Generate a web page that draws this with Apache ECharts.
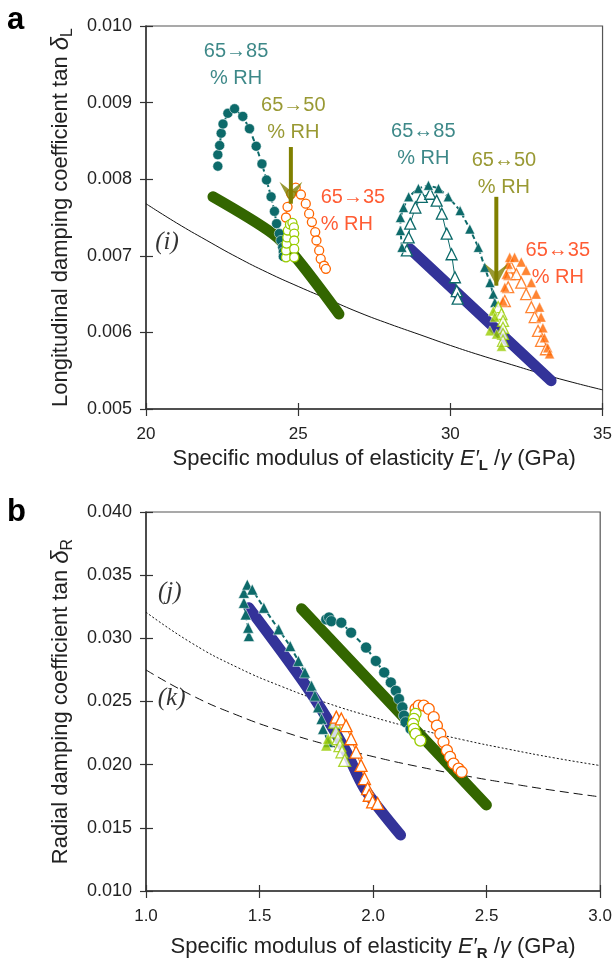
<!DOCTYPE html>
<html><head><meta charset="utf-8">
<script src="https://cdn.jsdelivr.net/npm/echarts@6/dist/echarts.min.js"></script>
<style>html,body{margin:0;padding:0;background:#fff}#c{width:615px;height:962px}</style>
</head><body><div id="c"></div>
<script>
// ---------- Panel a data (x: specific modulus E'L/γ, GPa ; y: tan δL) ----------
const aXTicks = [20, 25, 30, 35];
const aYTicks = [0.005, 0.006, 0.007, 0.008, 0.009, 0.010];
const aGreenFit = [[22.20,0.00777],[24.16,0.00729],[24.92,0.00698],[26.34,0.00624]];
const aBlueFit = [[28.68,0.00709],[33.31,0.00537]];
const curveIX = [20,21,22,23,24,25,26,27,28,29,30,31,32,33,34,35];
const curveIY = [0.00768,0.00743,0.00720,0.00698,0.00678,0.00660,0.00643,0.00626,0.00611,0.00597,0.00583,0.00570,0.00558,0.00546,0.00535,0.00525];
const aTealCirc = [[22.36,0.00817],[22.36,0.00832],[22.42,0.00844],[22.47,0.00860],[22.53,0.00872],[22.69,0.00886],[22.91,0.00892],[23.18,0.00882],[23.40,0.00866],[23.62,0.00843],[23.81,0.00820],[23.96,0.00799],[24.11,0.00777],[24.22,0.00758],[24.29,0.00742],[24.38,0.00729],[24.43,0.00720],[24.49,0.00711],[24.51,0.00705],[24.51,0.00699]];
const aLimeCirc = [[24.60,0.00698],[24.60,0.00707],[24.62,0.00716],[24.64,0.00724],[24.66,0.00733],[24.73,0.00741],[24.81,0.00743],[24.86,0.00737],[24.87,0.00729],[24.87,0.00720],[24.87,0.00709],[24.87,0.00698]];
const aOrangeCirc = [[24.60,0.00750],[24.65,0.00764],[24.77,0.00781],[24.92,0.00789],[25.09,0.00780],[25.25,0.00768],[25.36,0.00755],[25.45,0.00744],[25.56,0.00731],[25.60,0.00720],[25.69,0.00707],[25.74,0.00696],[25.85,0.00687],[25.91,0.00683]];
const aTealTriFilled = [[28.41,0.00711],[28.36,0.00733],[28.36,0.00750],[28.46,0.00763],[28.63,0.00777],[28.95,0.00788],[29.28,0.00792],[29.61,0.00788],[29.93,0.00777],[30.32,0.00759],[30.64,0.00735],[30.92,0.00711],[31.13,0.00685],[31.30,0.00665],[31.41,0.00650],[31.46,0.00639]];
const aTealTriOpen = [[28.57,0.00707],[28.63,0.00724],[28.68,0.00742],[28.85,0.00763],[29.06,0.00777],[29.34,0.00781],[29.55,0.00772],[29.72,0.00755],[29.88,0.00729],[30.04,0.00702],[30.15,0.00672],[30.21,0.00654],[30.24,0.00644]];
const aLimeTriFilled = [[31.41,0.00628],[31.46,0.00620],[31.30,0.00602],[31.52,0.00598],[31.68,0.00582]];
const aLimeTriOpen = [[31.57,0.00633],[31.68,0.00624],[31.73,0.00615],[31.73,0.00606],[31.73,0.00598],[31.73,0.00589]];
const aOrangeTriFilled = [[31.73,0.00641],[31.79,0.00659],[31.84,0.00676],[31.90,0.00689],[31.95,0.00698],[32.11,0.00698],[32.33,0.00692],[32.49,0.00681],[32.66,0.00665],[32.82,0.00650],[32.93,0.00633],[32.98,0.00620],[33.04,0.00606],[33.09,0.00593],[33.20,0.00580],[33.26,0.00572]];
const aOrangeTriOpen = [[31.79,0.00641],[31.90,0.00659],[31.95,0.00676],[32.00,0.00685],[32.17,0.00676],[32.33,0.00665],[32.49,0.00650],[32.66,0.00633],[32.77,0.00620],[32.88,0.00602],[32.98,0.00589],[33.14,0.00578]];

// ---------- Panel b data (x: specific modulus E'R/γ, GPa ; y: tan δR) ----------
const bXTicks = [1.0, 1.5, 2.0, 2.5, 3.0];
const bYTicks = [0.010, 0.015, 0.020, 0.025, 0.030, 0.035, 0.040];
const bGreenFit = [[1.685,0.03234],[2.499,0.01680]];
const bBlueFit = [[1.453,0.03242],[1.715,0.02598],[1.875,0.02126],[1.962,0.01811],[2.121,0.01443]];
const curveJX = [1.0,1.2,1.4,1.6,1.8,2.0,2.2,2.4,2.6,2.8,3.0];
const curveJY = [0.03207,0.02964,0.02772,0.02617,0.02486,0.02376,0.02280,0.02195,0.02121,0.02053,0.01993];
const curveKX = [1.0,1.2,1.4,1.6,1.8,2.0,2.2,2.4,2.6,2.8,3.0];
const curveKY = [0.02750,0.02550,0.02393,0.02264,0.02156,0.02064,0.01984,0.01914,0.01852,0.01795,0.01745];
const bTealTri = [[1.453,0.03018],[1.450,0.03084],[1.439,0.03189],[1.431,0.03281],[1.431,0.03360],[1.446,0.03425],[1.468,0.03386],[1.519,0.03242],[1.584,0.03071],[1.635,0.02939],[1.671,0.02821],[1.700,0.02730],[1.729,0.02624],[1.744,0.02546],[1.758,0.02454],[1.773,0.02362],[1.780,0.02283],[1.802,0.02179]];
const bLimeTriOpen = [[1.831,0.02336],[1.836,0.02260],[1.845,0.02205],[1.854,0.02150],[1.863,0.02102],[1.875,0.02034]];
const bLimeTriFilled = [[1.794,0.02152],[1.802,0.02205]];
const bOrangeTri = [[1.838,0.02376],[1.860,0.02362],[1.881,0.02309],[1.903,0.02205],[1.925,0.02100],[1.947,0.01994],[1.962,0.01890],[1.976,0.01811],[1.983,0.01758],[1.998,0.01706],[2.020,0.01693]];
const bTealCirc = [[1.794,0.03150],[1.806,0.03165],[1.816,0.03136],[1.860,0.03124],[1.903,0.03045],[1.969,0.02927],[2.012,0.02821],[2.049,0.02730],[2.078,0.02651],[2.100,0.02585],[2.114,0.02520],[2.129,0.02454],[2.136,0.02388],[2.143,0.02336],[2.165,0.02283],[2.180,0.02257]];
const bLimeCirc = [[2.187,0.02402],[2.180,0.02362],[2.176,0.02323],[2.180,0.02283],[2.187,0.02244],[2.208,0.02191]];
const bOrangeCirc = [[2.187,0.02441],[2.201,0.02467],[2.223,0.02467],[2.245,0.02441],[2.267,0.02376],[2.281,0.02309],[2.296,0.02244],[2.310,0.02179],[2.325,0.02113],[2.339,0.02061],[2.354,0.02008],[2.376,0.01969],[2.390,0.01942]];

// ---------- annotations (data coordinates) ----------
const notesA = [
  {t:'65→85\n% RH', x:22.96, y:0.00949, c:'teal'},
  {t:'65→50\n% RH', x:24.84, y:0.00879, c:'olive'},
  {t:'65→35\n% RH', x:25.74, y:0.00759, c:'red', left:true},
  {t:'65↔85\n% RH', x:29.11, y:0.00845, c:'teal'},
  {t:'65↔50\n% RH', x:31.76, y:0.00807, c:'olive'},
  {t:'65↔35\n% RH', x:33.53, y:0.00689, c:'red'}
];
const arrowsA = [{x:24.76, top:0.00842, tip:0.00768},{x:31.51, top:0.00777, tip:0.00661}];
const curveLabelsA = [{t:'(i)', x:20.69, y:0.00717}];
const curveLabelsB = [{t:'(j)', x:1.105, y:0.03364},{t:'(k)', x:1.113, y:0.02523}];

// ---------- styles ----------
const C = {teal:'#0d6a6a', olive:'#808000', red:'#ff3300', lime:'#99cc00', orange:'#ff6600', green:'#336600', blue:'#333399'};
const FONT = '"Liberation Sans", Arial, sans-serif';
const SERIF = '"Liberation Serif", "Times New Roman", serif';
const zip = (xs, ys) => xs.map((x, i) => [x, ys[i]]);

function fit(data, gi, color) {
  return {type:'line', xAxisIndex:gi*2, yAxisIndex:gi*2, data, symbol:'none', smooth:0.3, silent:true, z:2,
    lineStyle:{color, width:11, cap:'round', join:'round'}};
}
function curve(data, gi, type) {
  return {type:'line', xAxisIndex:gi*2, yAxisIndex:gi*2, data, symbol:'none', smooth:true, silent:true, z:1,
    lineStyle:{color:'#111', width:1, type}};
}
function marks(data, gi, sym, size, color, open, line) {
  const s = {type: line ? 'line' : 'scatter', xAxisIndex:gi*2, yAxisIndex:gi*2, data, symbol:sym, symbolSize:size,
    showSymbol:true, silent:true, z:3,
    itemStyle: open ? {color:'#fff', borderColor:color, borderWidth:1.3} : {color, borderColor:'#fff', borderWidth:0.5}};
  if (line) s.lineStyle = {color, width: line === 'dashed' ? 2 : 1, type: line === 'dashed' ? [5,3] : 'solid'};
  return s;
}
function notes(list, gi) {
  return list.map(n => ({type:'scatter', xAxisIndex:gi*2, yAxisIndex:gi*2, silent:true, z:6,
    symbolSize:1, itemStyle:{color:'rgba(0,0,0,0)'},
    data:[[n.x, n.y]],
    label:{show:true, position:'inside', formatter:n.t, color:C[n.c], fontSize:20, lineHeight:27,
      fontFamily:FONT, align: n.left ? 'left' : 'center', verticalAlign:'middle'}}));
}
function curveNotes(list, gi) {
  return list.map(n => ({type:'scatter', xAxisIndex:gi*2, yAxisIndex:gi*2, silent:true, z:6,
    symbolSize:1, itemStyle:{color:'rgba(0,0,0,0)'},
    data:[[n.x, n.y]],
    label:{show:true, position:'inside', formatter:n.t, color:'#000', fontSize:25,
      fontFamily:SERIF, fontStyle:'italic', align:'center', verticalAlign:'middle'}}));
}
function arrows(list, gi) {
  const out = [];
  list.forEach(a => {
    out.push({type:'line', xAxisIndex:gi*2, yAxisIndex:gi*2, silent:true, z:5, symbol:'none',
      data:[[a.x, a.top],[a.x, a.tip]], lineStyle:{color:C.olive, width:4}});
    out.push({type:'scatter', xAxisIndex:gi*2, yAxisIndex:gi*2, silent:true, z:5,
      data:[[a.x, a.tip]], symbol:'path://M0,0 L11.5,9 L23,0 L11.5,22 Z', symbolSize:[23,22],
      symbolOffset:[0,-11], itemStyle:{color:C.olive}});
  });
  return out;
}

const axisLineStyle = {color:'#333', width:1.5};
function mainX(gi, min, max, interval, name, gap, dec) {
  return {gridIndex:gi, type:'value', position:'bottom', min, max, interval,
    axisLine:{show:true, onZero:false, lineStyle:axisLineStyle},
    axisTick:{show:true, length:7, lineStyle:{color:'#333', width:1.2}},
    axisLabel:{fontSize:17, color:'#222', margin:17, fontFamily:FONT, formatter:v => v.toFixed(dec)},
    splitLine:{show:false},
    name, nameLocation:'middle', nameGap:gap,
    nameTextStyle:{fontSize:22, color:'#222', fontFamily:FONT, lineHeight:28,
      rich:{n:{fontSize:22, fontFamily:FONT, color:'#222', lineHeight:28, verticalAlign:'middle'},
            i:{fontSize:22, fontFamily:FONT, color:'#222', fontStyle:'italic', lineHeight:28, verticalAlign:'middle'},
            s:{fontSize:15, fontFamily:FONT, color:'#222', fontWeight:'bold', lineHeight:16, verticalAlign:'bottom'}}}};
}
function innerX(gi, min, max, interval) {
  return {gridIndex:gi, type:'value', position:'bottom', min, max, interval,
    axisLine:{show:false, onZero:false}, axisTick:{show:true, inside:true, length:6, lineStyle:{color:'#333', width:1.2}},
    axisLabel:{show:false}, splitLine:{show:false}};
}
function mainY(gi, min, max, interval, name) {
  return {gridIndex:gi, type:'value', position:'left', min, max, interval,
    axisLine:{show:true, onZero:false, lineStyle:axisLineStyle},
    axisTick:{show:true, length:6, lineStyle:{color:'#333', width:1.2}},
    axisLabel:{fontSize:18, color:'#222', margin:14, fontFamily:FONT, formatter:v => v.toFixed(3)},
    splitLine:{show:false},
    name, nameLocation:'middle', nameGap:70, nameRotate:90,
    nameTextStyle:{fontSize:22, color:'#222', fontFamily:FONT, lineHeight:30,
      rich:{n:{fontSize:22, fontFamily:FONT, color:'#222', lineHeight:30, verticalAlign:'middle'},
            d:{fontSize:24, fontFamily:FONT, color:'#222', fontStyle:'italic', lineHeight:30, verticalAlign:'middle'},
            s:{fontSize:16, fontFamily:FONT, color:'#222', lineHeight:17, verticalAlign:'bottom'}}}};
}
function innerY(gi, min, max, interval) {
  return {gridIndex:gi, type:'value', position:'left', min, max, interval,
    axisLine:{show:false, onZero:false}, axisTick:{show:true, inside:true, length:7, lineStyle:{color:'#333', width:1.2}},
    axisLabel:{show:false}, splitLine:{show:false}};
}

const chart = echarts.init(document.getElementById('c'), null, {renderer:'canvas', width:615, height:962});
const option = {
  animation:false,
  backgroundColor:'#fff',
  grid:[
    {left:146, top:26, width:459, height:383, show:true, borderColor:'#555', borderWidth:1.2, backgroundColor:'transparent'},
    {left:146, top:512, width:459, height:382, show:true, borderColor:'#555', borderWidth:1.2, backgroundColor:'transparent'}
  ],
  xAxis:[
    mainX(0, aXTicks[0], aXTicks[aXTicks.length-1], 5, '{n|Specific modulus of elasticity }{i|E′}{s|L}{n| /}{i|γ}{n| (GPa)}', 36, 0),
    innerX(0, aXTicks[0], aXTicks[aXTicks.length-1], 5),
    mainX(1, bXTicks[0], bXTicks[bXTicks.length-1], 0.5, '{n|Specific modulus of elasticity }{i|E′}{s|R}{n| /}{i|γ}{n| (GPa)}', 42, 1),
    innerX(1, bXTicks[0], bXTicks[bXTicks.length-1], 0.5)
  ],
  yAxis:[
    mainY(0, aYTicks[0], aYTicks[aYTicks.length-1], 0.001, '{n|Longitudinal damping coefficient tan }{d|δ}{s|L}'),
    innerY(0, aYTicks[0], aYTicks[aYTicks.length-1], 0.001),
    mainY(1, bYTicks[0], bYTicks[bYTicks.length-1], 0.005, '{n|Radial damping coefficient tan }{d|δ}{s|R}'),
    innerY(1, bYTicks[0], bYTicks[bYTicks.length-1], 0.005)
  ],
  graphic:[
    {type:'text', x:7, y:20, style:{text:'a', fontSize:31, fontWeight:'bold', fill:'#000', fontFamily:FONT, verticalAlign:'middle'}},
    {type:'text', x:7, y:512, style:{text:'b', fontSize:31, fontWeight:'bold', fill:'#000', fontFamily:FONT, verticalAlign:'middle'}}
  ],
  series:[
    // panel a
    curve(zip(curveIX, curveIY), 0, 'solid'),
    fit(aGreenFit, 0, C.green),
    fit(aBlueFit, 0, C.blue),
    marks(aTealCirc, 0, 'circle', 10, C.teal, false, 'dashed'),
    marks(aOrangeCirc, 0, 'circle', 9, C.orange, true, 'solid'),
    marks(aLimeCirc, 0, 'circle', 9, C.lime, true, 'solid'),
    marks(aTealTriOpen, 0, 'triangle', 11, C.teal, true, 'solid'),
    marks(aTealTriFilled, 0, 'triangle', 10, C.teal, false, 'dashed'),
    marks(aOrangeTriOpen, 0, 'triangle', 11, C.orange, true, null),
    marks(aOrangeTriFilled, 0, 'triangle', 10, C.orange, false, null),
    marks(aLimeTriOpen, 0, 'triangle', 11, C.lime, true, null),
    marks(aLimeTriFilled, 0, 'triangle', 10, C.lime, false, null),
    ...arrows(arrowsA, 0),
    ...notes(notesA, 0),
    ...curveNotes(curveLabelsA, 0),
    // panel b
    curve(zip(curveJX, curveJY), 1, [2,2]),
    curve(zip(curveKX, curveKY), 1, [9,5]),
    fit(bGreenFit, 1, C.green),
    fit(bBlueFit, 1, C.blue),
    marks(bTealTri, 1, 'triangle', 11, C.teal, false, 'dashed'),
    marks(bLimeTriFilled, 1, 'triangle', 11, C.lime, false, null),
    marks(bLimeTriOpen, 1, 'triangle', 12, C.lime, true, null),
    marks(bOrangeTri, 1, 'triangle', 12, C.orange, true, 'solid'),
    marks(bTealCirc, 1, 'circle', 11, C.teal, false, 'dashed'),
    marks(bOrangeCirc, 1, 'circle', 11, C.orange, true, 'solid'),
    marks(bLimeCirc, 1, 'circle', 11, C.lime, true, 'solid'),
    ...curveNotes(curveLabelsB, 1)
  ]
};
chart.setOption(option);
</script></body></html>
